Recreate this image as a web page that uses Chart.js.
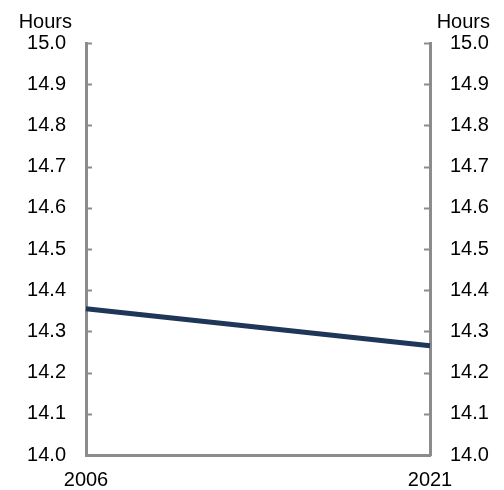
<!DOCTYPE html>
<html>
<head>
<meta charset="utf-8">
<script src="https://cdn.jsdelivr.net/npm/chart.js@4"></script>
<style>
  html, body { margin: 0; padding: 0; background: #fff; }
  #wrap { width: 504px; height: 490px; }
</style>
</head>
<body>
<div id="wrap"><canvas id="hoursChart"></canvas></div>
<script>
const years = ['2006', '2021'];
const hours = [14.355, 14.265];
const yMin = 14.0;
const yMax = 15.0;
const yStep = 0.1;
const unitLabel = 'Hours';

const axisGrey = '#8c8c8c';
const font = { family: '"Liberation Sans", Arial, sans-serif', size: 20 };

// tick marks pointing into the plot, plus the unit label above each axis
const innerTicks = {
    id: 'innerTicks',
    afterDraw(chart) {
        const ctx = chart.ctx;
        const area = chart.chartArea;
        ctx.save();
        ctx.strokeStyle = axisGrey;
        ctx.lineWidth = 2;
        ['y', 'y2'].forEach(id => {
            const scale = chart.scales[id];
            const isLeft = id === 'y';
            scale.ticks.forEach(t => {
                const py = Math.round(scale.getPixelForValue(t.value)) + 0.5;
                ctx.beginPath();
                if (isLeft) {
                    ctx.moveTo(area.left, py);
                    ctx.lineTo(area.left + 6, py);
                } else {
                    ctx.moveTo(area.right - 6, py);
                    ctx.lineTo(area.right, py);
                }
                ctx.stroke();
            });
            ctx.fillStyle = '#000';
            ctx.font = font.size + 'px ' + font.family;
            ctx.textBaseline = 'middle';
            ctx.textAlign = 'right';
            if (isLeft) {
                ctx.fillText(unitLabel, area.left - 14, 22);
            } else {
                ctx.fillText(unitLabel, 490, 22);
            }
        });
        ctx.restore();
    }
};

const hoursCtx = document.getElementById('hoursChart').getContext('2d');
new Chart(hoursCtx, {
    type: 'line',
    data: {
        labels: years,
        datasets: [{
            data: hours,
            borderColor: '#1e3658',
            borderWidth: 5,
            pointRadius: 0,
            tension: 0,
            fill: false
        }]
    },
    options: {
        responsive: true,
        maintainAspectRatio: false,
        animation: false,
        layout: { padding: { top: 43, right: 0, bottom: 0, left: 0 } },
        plugins: {
            legend: { display: false },
            tooltip: { enabled: false }
        },
        scales: {
            x: {
                offset: false,
                grid: { display: false, drawTicks: false },
                border: { display: true, color: axisGrey, width: 3 },
                ticks: { color: '#000', font: font, padding: 13, maxRotation: 0 },
                afterFit(scale) { scale.height = 35; }
            },
            y: {
                position: 'left',
                min: yMin,
                max: yMax,
                grid: { display: false, drawTicks: false },
                border: { display: true, color: axisGrey, width: 3 },
                ticks: {
                    stepSize: yStep,
                    color: '#000',
                    font: font,
                    padding: 20,
                    callback: v => v.toFixed(1)
                },
                afterFit(scale) { scale.width = 86; }
            },
            y2: {
                position: 'right',
                min: yMin,
                max: yMax,
                grid: { display: false, drawTicks: false },
                border: { display: true, color: axisGrey, width: 3 },
                ticks: {
                    stepSize: yStep,
                    color: '#000',
                    font: font,
                    padding: 20,
                    callback: v => v.toFixed(1)
                },
                afterFit(scale) { scale.width = 74; }
            }
        }
    },
    plugins: [innerTicks]
});
</script>
</body>
</html>
